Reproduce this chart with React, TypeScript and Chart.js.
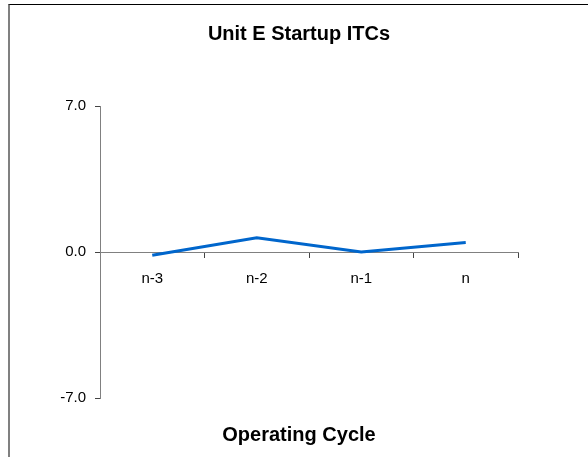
import React, { useEffect, useRef } from "react";
import { Chart, registerables } from "chart.js";

Chart.register(...registerables);

const categories = ["n-3", "n-2", "n-1", "n"];
const itcValues = [-0.16, 0.68, 0.0, 0.46];
const yMin = -7;
const yMax = 7;
const yStep = 7;
const titleText = "Unit E Startup ITCs";
const xTitleText = "Operating Cycle";

const FONT = "Arial, 'Liberation Sans', sans-serif";

export default function App() {
  const ref = useRef<HTMLCanvasElement | null>(null);
  useEffect(() => {
    if (!ref.current) return;
    const chart = new Chart(ref.current, {
      type: "line",
      data: {
        labels: categories,
        datasets: [
          {
            data: itcValues,
            borderColor: "#0066CC",
            backgroundColor: "#0066CC",
            borderWidth: 3,
            pointRadius: 0,
            tension: 0,
            fill: false,
          },
        ],
      },
      options: {
        animation: false,
        responsive: false,
        maintainAspectRatio: false,
        layout: { padding: { left: 0, right: 0, top: 0, bottom: 0 } },
        plugins: {
          legend: { display: false },
          tooltip: { enabled: false },
          title: {
            display: true,
            text: titleText,
            color: "#000",
            font: { family: FONT, size: 20, weight: "bold" },
            padding: { top: 17, bottom: 60 },
          },
          subtitle: {
            display: true,
            position: "bottom",
            text: xTitleText,
            color: "#000",
            font: { family: FONT, size: 20, weight: "bold" },
            padding: { top: 25, bottom: 10 },
          },
        },
        scales: {
          x: {
            type: "category",
            position: { y: 0 } as any,
            offset: true,
            grid: {
              display: true,
              drawOnChartArea: false,
              drawTicks: true,
              tickLength: 5,
              offset: true,
              color: "#444",
            },
            border: { display: true, color: "#808080", width: 1 },
            ticks: {
              color: "#000",
              font: { family: FONT, size: 15 },
              padding: 13,
              maxRotation: 0,
            },
          },
          y: {
            type: "linear",
            position: "left",
            min: yMin,
            max: yMax,
            grid: {
              display: true,
              drawOnChartArea: false,
              drawTicks: true,
              tickLength: 5,
              color: "#444",
            },
            border: { display: true, color: "#808080", width: 1 },
            ticks: {
              stepSize: yStep,
              color: "#000",
              font: { family: FONT, size: 15 },
              padding: 9,
              callback: (v: any) => Number(v).toFixed(1),
            },
            afterFit: (scale: any) => {
              scale.width = 90;
            },
          },
          yR: {
            type: "linear",
            position: "right",
            display: true,
            grid: { display: false, drawTicks: false },
            border: { display: false },
            ticks: { display: false },
            afterFit: (scale: any) => {
              scale.width = 70;
            },
          },
        },
      },
    });
    return () => chart.destroy();
  }, []);

  return (
    <div
      style={{
        position: "absolute",
        left: 8,
        top: 4,
        width: 580,
        height: 453,
        boxSizing: "border-box",
        borderLeft: "2px solid #808080",
        borderTop: "1px solid #000",
        background: "#fff",
      }}
    >
      <canvas ref={ref} width={578} height={452} style={{ display: "block" }} />
    </div>
  );
}
